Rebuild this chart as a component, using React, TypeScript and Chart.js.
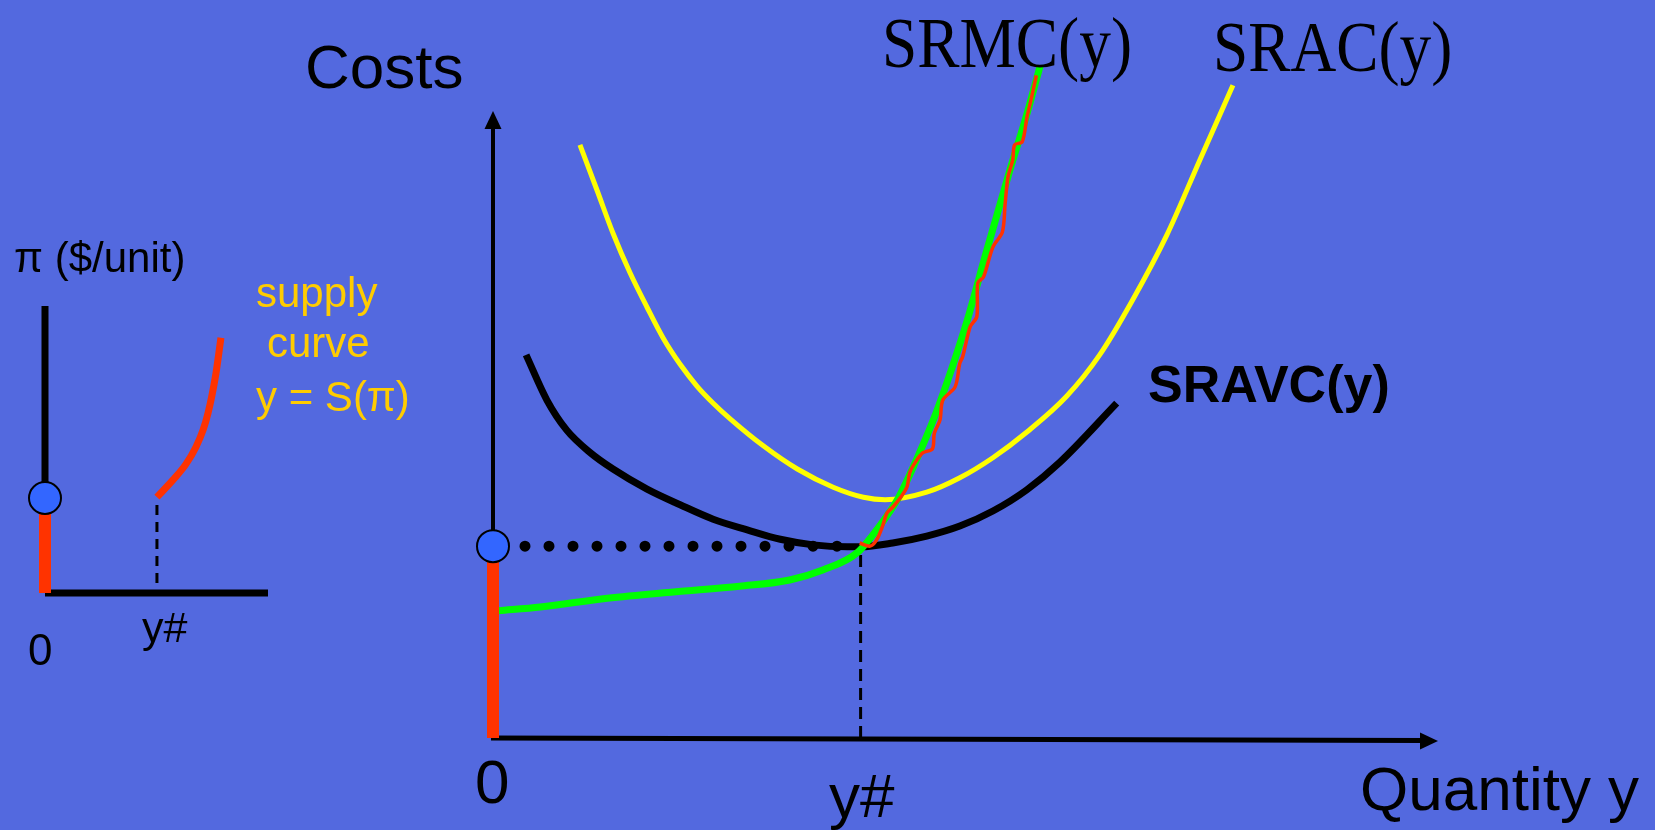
import React, { useEffect, useRef } from "react";
import { Chart, registerables } from "chart.js";

Chart.register(...registerables);

// ---------- Main chart data (quantity y on x, costs on y; axis runs 0..10) ----------
const SRAC_Q = [0.92, 1.1, 1.27, 1.45, 1.63, 1.8, 1.98, 2.16, 2.33, 2.51, 2.86, 3.22, 3.6, 3.92, 4.15, 4.59, 4.94, 5.29, 5.65, 6.07, 6.42, 6.77, 7.13, 7.48, 7.83];
const SRAC_C = [9.46, 8.74, 8.05, 7.42, 6.87, 6.38, 5.96, 5.61, 5.34, 5.09, 4.66, 4.29, 4.0, 3.84, 3.8, 3.92, 4.15, 4.47, 4.88, 5.45, 6.11, 6.99, 8.02, 9.22, 10.41];

const SRAVC_Q = [0.35, 0.57, 0.78, 1.03, 1.27, 1.63, 1.98, 2.33, 2.69, 3.04, 3.39, 3.75, 3.89, 4.23, 4.59, 4.94, 5.29, 5.65, 6.0, 6.6];
const SRAVC_C = [6.11, 5.39, 4.91, 4.55, 4.29, 3.97, 3.72, 3.49, 3.32, 3.17, 3.08, 3.05, 3.05, 3.11, 3.22, 3.38, 3.62, 3.96, 4.4, 5.34];

const SRMC_Q = [0.06, 0.5, 1.21, 1.91, 2.61, 3.14, 3.49, 3.85, 4.1, 4.29, 4.47, 4.68, 4.85, 5.02, 5.22, 5.48, 5.64, 5.79];
const SRMC_C = [2.03, 2.09, 2.23, 2.33, 2.42, 2.52, 2.68, 2.95, 3.4, 3.83, 4.4, 5.15, 5.87, 6.67, 7.75, 9.11, 9.9, 10.72];

// hand-drawn red trace of the supply part of SRMC
const SUPPLY_Q = [3.88, 3.99, 4.06, 4.12, 4.17, 4.23, 4.31, 4.38, 4.41, 4.47, 4.55, 4.65, 4.67, 4.73, 4.76, 4.89, 4.94, 4.97, 5.05, 5.12, 5.13, 5.19, 5.29, 5.39, 5.42, 5.45, 5.5, 5.52, 5.6, 5.65, 5.7, 5.75];
const SUPPLY_C = [3.11, 3.06, 3.16, 3.37, 3.59, 3.68, 3.83, 4.0, 4.23, 4.4, 4.55, 4.61, 4.86, 5.07, 5.39, 5.6, 5.98, 6.08, 6.56, 6.72, 7.26, 7.35, 7.83, 8.07, 8.53, 8.95, 9.22, 9.46, 9.51, 9.9, 10.22, 10.57];

const Y_SHUT = 3.89; // y#
const P_SHUT = 3.06; // min SRAVC

// ---------- Inset chart data (quantity on x, price on y; axis runs 0..10) ----------
const INSET_Q = [5.02, 5.74, 6.32, 6.77, 7.09, 7.31, 7.49, 7.67, 7.89];
const INSET_P = [3.34, 3.94, 4.49, 5.09, 5.68, 6.27, 6.9, 7.67, 8.89];
const INSET_Y_SHUT = 5.02;
const INSET_P_SHUT = 3.31;
const INSET_DASH_BOTTOM = 0.35;

const BG = "#5369DF";
const RED = "#FF3300";

const zip = (xs: number[], ys: number[]) => xs.map((x, i) => ({ x, y: ys[i] }));

const mainAxes = {
  id: "mainAxes",
  beforeDatasetsDraw(chart: any) {
    const { ctx } = chart;
    const xs = chart.scales.x;
    const ys = chart.scales.y;
    const x0 = xs.getPixelForValue(0);
    const y0 = ys.getPixelForValue(0);
    const xT = xs.getPixelForValue(10);
    const yT = ys.getPixelForValue(10);
    ctx.save();
    ctx.fillStyle = "#000";
    ctx.strokeStyle = "#000";
    ctx.lineWidth = 4;
    ctx.beginPath();
    ctx.moveTo(x0, y0);
    ctx.lineTo(x0, yT + 16);
    ctx.stroke();
    ctx.beginPath();
    ctx.moveTo(x0, yT);
    ctx.lineTo(x0 - 8.5, yT + 18);
    ctx.lineTo(x0 + 8.5, yT + 18);
    ctx.closePath();
    ctx.fill();
    ctx.lineWidth = 5;
    ctx.beginPath();
    ctx.moveTo(x0 - 2, y0);
    ctx.lineTo(xT - 16, y0 + 2.5);
    ctx.stroke();
    ctx.beginPath();
    ctx.moveTo(xT, y0 + 3);
    ctx.lineTo(xT - 18, y0 + 3 - 8.5);
    ctx.lineTo(xT - 18, y0 + 3 + 8.5);
    ctx.closePath();
    ctx.fill();
    ctx.restore();
  },
};

const insetAxes = {
  id: "insetAxes",
  beforeDatasetsDraw(chart: any) {
    const { ctx } = chart;
    const xs = chart.scales.x;
    const ys = chart.scales.y;
    const x0 = xs.getPixelForValue(0);
    const y0 = ys.getPixelForValue(0);
    const xT = xs.getPixelForValue(10);
    const yT = ys.getPixelForValue(10);
    ctx.save();
    ctx.strokeStyle = "#000";
    ctx.lineWidth = 7;
    ctx.beginPath();
    ctx.moveTo(x0, y0);
    ctx.lineTo(x0, yT);
    ctx.stroke();
    ctx.beginPath();
    ctx.moveTo(x0, y0);
    ctx.lineTo(xT, y0);
    ctx.stroke();
    ctx.restore();
  },
};

const baseScales = {
  x: { type: "linear", min: 0, max: 10, display: false },
  y: { type: "linear", min: 0, max: 10, display: false },
};

const line = (data: any[], color: string, width: number, order: number, extra: any = {}) => ({
  data,
  showLine: true,
  borderColor: color,
  borderWidth: width,
  pointRadius: 0,
  tension: 0.4,
  fill: false,
  clip: false,
  order,
  ...extra,
});

const smooth = { cubicInterpolationMode: "monotone" };

function MainChart() {
  const ref = useRef<HTMLCanvasElement | null>(null);
  useEffect(() => {
    if (!ref.current) return;
    const chart = new Chart(ref.current, {
      type: "scatter",
      data: {
        datasets: [
          line([{ x: Y_SHUT, y: 0 }, { x: Y_SHUT, y: P_SHUT }], "#000", 3, 10, { tension: 0, borderDash: [12, 7] }),
          line([{ x: 0, y: P_SHUT }, { x: Y_SHUT, y: P_SHUT }], "#000", 11, 9, {
            tension: 0,
            borderDash: [0, 24],
            borderDashOffset: 16,
            borderCapStyle: "round",
          }),
          line(zip(SRAC_Q, SRAC_C), "#FFFF00", 5, 8, smooth),
          line(zip(SRAVC_Q, SRAVC_C), "#000", 7, 7, { ...smooth, borderCapStyle: "butt" }),
          line(zip(SRMC_Q, SRMC_C), "#00FF00", 7, 6, smooth),
          line(zip(SUPPLY_Q, SUPPLY_C), RED, 3.5, 5, { tension: 0.3, borderJoinStyle: "round" }),
          line([{ x: 0, y: 0 }, { x: 0, y: P_SHUT }], RED, 12, 4, { tension: 0 }),
          {
            data: [{ x: 0, y: P_SHUT }],
            pointRadius: 16,
            pointBackgroundColor: "#3366FF",
            pointBorderColor: "#000",
            pointBorderWidth: 2,
            clip: false,
            order: 1,
          },
        ],
      },
      options: {
        responsive: false,
        animation: false,
        events: [],
        layout: { padding: { left: 493, right: 217, top: 111, bottom: 92 } },
        scales: baseScales as any,
        plugins: { legend: { display: false }, tooltip: { enabled: false } },
      },
      plugins: [mainAxes],
    } as any);
    return () => chart.destroy();
  }, []);
  return <canvas ref={ref} width={1655} height={830} style={{ position: "absolute", left: 0, top: 0 }} />;
}

function InsetChart() {
  const ref = useRef<HTMLCanvasElement | null>(null);
  useEffect(() => {
    if (!ref.current) return;
    const chart = new Chart(ref.current, {
      type: "scatter",
      data: {
        datasets: [
          line([{ x: INSET_Y_SHUT, y: INSET_DASH_BOTTOM }, { x: INSET_Y_SHUT, y: INSET_P_SHUT }], "#000", 3, 10, {
            tension: 0,
            borderDash: [10, 7],
          }),
          line(zip(INSET_Q, INSET_P), RED, 7, 6, smooth),
          line([{ x: 0, y: 0 }, { x: 0, y: INSET_P_SHUT }], RED, 12, 4, { tension: 0 }),
          {
            data: [{ x: 0, y: INSET_P_SHUT }],
            pointRadius: 16,
            pointBackgroundColor: "#3366FF",
            pointBorderColor: "#000",
            pointBorderWidth: 2,
            clip: false,
            order: 1,
          },
        ],
      },
      options: {
        responsive: false,
        animation: false,
        events: [],
        layout: { padding: { left: 45, right: 172, top: 106, bottom: 107 } },
        scales: baseScales as any,
        plugins: { legend: { display: false }, tooltip: { enabled: false } },
      },
      plugins: [insetAxes],
    } as any);
    return () => chart.destroy();
  }, []);
  return <canvas ref={ref} width={440} height={500} style={{ position: "absolute", left: 0, top: 200 }} />;
}

const SANS = '"Liberation Sans", Arial, Helvetica, sans-serif';
const SERIF = '"Liberation Serif", "Times New Roman", Times, serif';

type Lbl = { text: string; left: number; baseline: number; size: number; font?: string; bold?: boolean; color?: string; sx?: number };

function Label({ text, left, baseline, size, font = SANS, bold = false, color = "#000", sx = 1 }: Lbl) {
  const asc = font === SERIF ? 0.8375 : 0.8465;
  return (
    <div
      style={{
        position: "absolute",
        left,
        top: baseline - asc * size,
        fontFamily: font,
        fontSize: size,
        fontWeight: bold ? 700 : 400,
        lineHeight: 1,
        color,
        whiteSpace: "pre",
        transform: sx !== 1 ? `scaleX(${sx})` : undefined,
        transformOrigin: "left top",
      }}
    >
      {text}
    </div>
  );
}

export default function App() {
  useEffect(() => {
    document.body.style.margin = "0";
  }, []);
  return (
    <div
      style={{
        position: "fixed",
        left: 0,
        top: 0,
        width: 1655,
        height: 830,
        background: BG,
        overflow: "hidden",
      }}
    >
      <InsetChart />
      <MainChart />
      <Label text="Costs" left={305} baseline={88} size={62} />
      <Label text="0" left={475} baseline={803} size={62} />
      <Label text="y#" left={829} baseline={817} size={62} />
      <Label text="Quantity y" left={1360} baseline={810} size={62} />
      <Label text="SRAVC(y)" left={1148} baseline={402} size={52} bold />
      <Label text="SRMC(y)" left={882} baseline={67} size={72} font={SERIF} sx={0.88} />
      <Label text="SRAC(y)" left={1213} baseline={71} size={72} font={SERIF} sx={0.88} />
      <Label text="π ($/unit)" left={14} baseline={273} size={42} />
      <Label text="supply" left={256} baseline={308} size={42} color="#FFCC00" />
      <Label text="curve" left={267} baseline={358} size={42} color="#FFCC00" />
      <Label text="y = S(π)" left={256} baseline={412} size={42} color="#FFCC00" />
      <Label text="0" left={28} baseline={665} size={44} />
      <Label text="y#" left={142} baseline={642} size={43} />
    </div>
  );
}
